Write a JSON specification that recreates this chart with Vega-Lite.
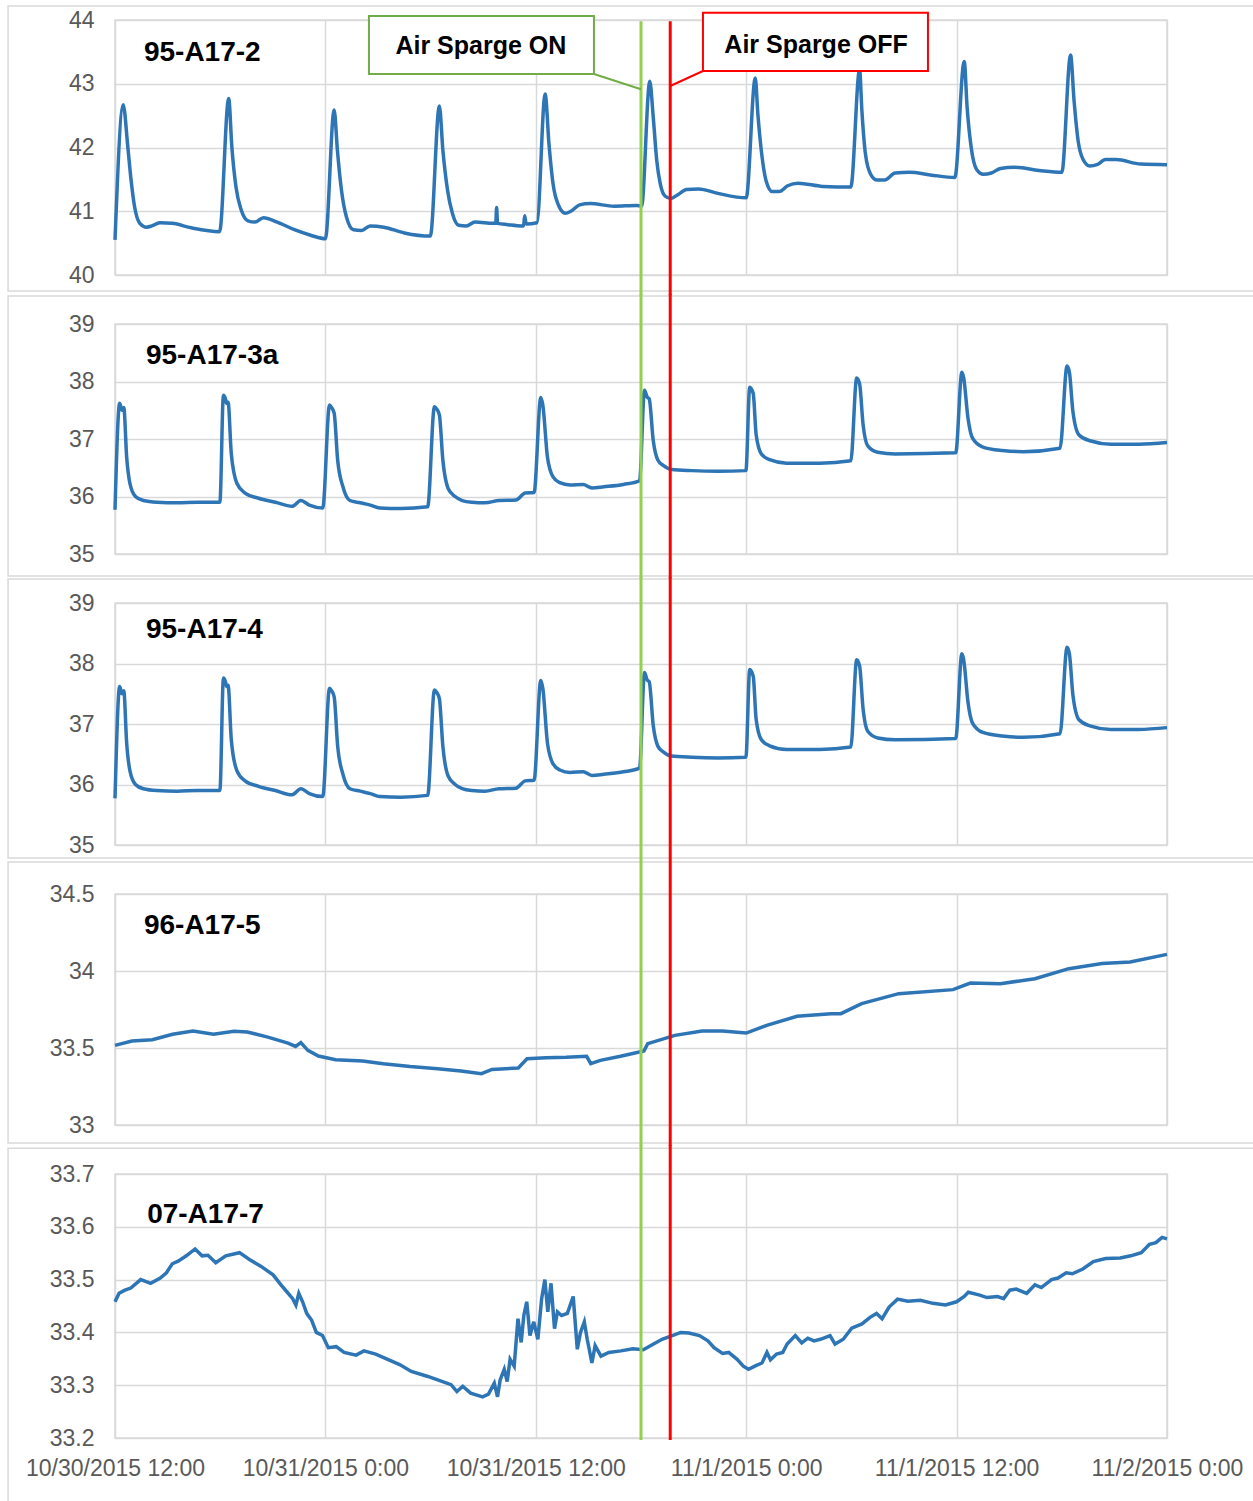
{
"$schema":"https://vega.github.io/schema/vega-lite/v6.json",
"padding":{"top":4,"left":6,"right":0,"bottom":0},
"background":"white",
"bounds":"flush",
"spacing":49,
"config":{"font":"Liberation Sans","view":{"stroke":"#d9d9d9","strokeWidth":1.5},
"axis":{"labelFont":"Liberation Sans","labelFontSize":23,"labelColor":"#595959","gridColor":"#d9d9d9","gridWidth":1.5,"ticks":false,"domain":false}},
"datasets":{
"p1":[{"t":"2015-10-30T12:00","v":40.55},{"t":"2015-10-30T12:28","v":42.67},{"t":"2015-10-30T12:44","v":42.0},{"t":"2015-10-30T12:55","v":41.49},{"t":"2015-10-30T13:07","v":41.07},{"t":"2015-10-30T13:25","v":40.81},{"t":"2015-10-30T13:48","v":40.75},{"t":"2015-10-30T14:06","v":40.77},{"t":"2015-10-30T14:33","v":40.82},{"t":"2015-10-30T15:16","v":40.81},{"t":"2015-10-30T16:21","v":40.74},{"t":"2015-10-30T17:58","v":40.68},{"t":"2015-10-30T18:29","v":42.77},{"t":"2015-10-30T18:40","v":42.0},{"t":"2015-10-30T18:54","v":41.38},{"t":"2015-10-30T19:12","v":41.02},{"t":"2015-10-30T19:35","v":40.85},{"t":"2015-10-30T19:59","v":40.83},{"t":"2015-10-30T20:28","v":40.9},{"t":"2015-10-30T21:15","v":40.83},{"t":"2015-10-30T22:14","v":40.71},{"t":"2015-10-30T23:12","v":40.62},{"t":"2015-10-31T00:00","v":40.57},{"t":"2015-10-31T00:30","v":42.59},{"t":"2015-10-31T00:41","v":41.96},{"t":"2015-10-31T00:55","v":41.33},{"t":"2015-10-31T01:12","v":40.91},{"t":"2015-10-31T01:36","v":40.71},{"t":"2015-10-31T02:04","v":40.70},{"t":"2015-10-31T02:33","v":40.77},{"t":"2015-10-31T03:20","v":40.75},{"t":"2015-10-31T04:30","v":40.66},{"t":"2015-10-31T05:59","v":40.61},{"t":"2015-10-31T06:30","v":42.65},{"t":"2015-10-31T06:42","v":41.96},{"t":"2015-10-31T06:58","v":41.33},{"t":"2015-10-31T07:15","v":40.96},{"t":"2015-10-31T07:36","v":40.78},{"t":"2015-10-31T08:02","v":40.77},{"t":"2015-10-31T08:32","v":40.83},{"t":"2015-10-31T09:36","v":40.81},{"t":"2015-10-31T09:43","v":40.81},{"t":"2015-10-31T09:46","v":41.06},{"t":"2015-10-31T09:49","v":40.81},{"t":"2015-10-31T10:24","v":40.79},{"t":"2015-10-31T11:11","v":40.77},{"t":"2015-10-31T11:18","v":40.77},{"t":"2015-10-31T11:22","v":40.93},{"t":"2015-10-31T11:27","v":40.8},{"t":"2015-10-31T12:04","v":40.82},{"t":"2015-10-31T12:32","v":42.84},{"t":"2015-10-31T12:45","v":42.06},{"t":"2015-10-31T12:59","v":41.43},{"t":"2015-10-31T13:18","v":41.09},{"t":"2015-10-31T13:41","v":40.97},{"t":"2015-10-31T14:00","v":41.0},{"t":"2015-10-31T14:30","v":41.1},{"t":"2015-10-31T15:06","v":41.12},{"t":"2015-10-31T16:28","v":41.08},{"t":"2015-10-31T17:45","v":41.09},{"t":"2015-10-31T18:02","v":41.08},{"t":"2015-10-31T18:30","v":43.04},{"t":"2015-10-31T18:42","v":42.47},{"t":"2015-10-31T18:54","v":41.79},{"t":"2015-10-31T19:06","v":41.43},{"t":"2015-10-31T19:22","v":41.24},{"t":"2015-10-31T19:42","v":41.2},{"t":"2015-10-31T20:06","v":41.26},{"t":"2015-10-31T20:36","v":41.34},{"t":"2015-10-31T21:17","v":41.35},{"t":"2015-10-31T22:23","v":41.28},{"t":"2015-11-01T00:00","v":41.21},{"t":"2015-11-01T00:31","v":43.09},{"t":"2015-11-01T00:40","v":42.52},{"t":"2015-11-01T00:53","v":41.9},{"t":"2015-11-01T01:08","v":41.48},{"t":"2015-11-01T01:29","v":41.31},{"t":"2015-11-01T01:53","v":41.31},{"t":"2015-11-01T02:22","v":41.4},{"t":"2015-11-01T02:58","v":41.44},{"t":"2015-11-01T04:22","v":41.39},{"t":"2015-11-01T05:58","v":41.38},{"t":"2015-11-01T06:28","v":43.22},{"t":"2015-11-01T06:36","v":42.57},{"t":"2015-11-01T06:48","v":41.9},{"t":"2015-11-01T07:06","v":41.58},{"t":"2015-11-01T07:28","v":41.49},{"t":"2015-11-01T07:54","v":41.49},{"t":"2015-11-01T08:30","v":41.6},{"t":"2015-11-01T09:18","v":41.61},{"t":"2015-11-01T10:30","v":41.57},{"t":"2015-11-01T11:54","v":41.53},{"t":"2015-11-01T12:26","v":43.35},{"t":"2015-11-01T12:36","v":42.63},{"t":"2015-11-01T12:50","v":42.0},{"t":"2015-11-01T13:08","v":41.66},{"t":"2015-11-01T13:32","v":41.58},{"t":"2015-11-01T13:59","v":41.6},{"t":"2015-11-01T14:30","v":41.67},{"t":"2015-11-01T15:18","v":41.69},{"t":"2015-11-01T16:42","v":41.64},{"t":"2015-11-01T18:00","v":41.61},{"t":"2015-11-01T18:30","v":43.45},{"t":"2015-11-01T18:42","v":42.73},{"t":"2015-11-01T18:56","v":42.1},{"t":"2015-11-01T19:12","v":41.82},{"t":"2015-11-01T19:36","v":41.71},{"t":"2015-11-01T20:00","v":41.73},{"t":"2015-11-01T20:30","v":41.81},{"t":"2015-11-01T21:06","v":41.81},{"t":"2015-11-01T22:30","v":41.74},{"t":"2015-11-02T00:00","v":41.73}],
"p2":[{"t":"2015-10-30T12:00","v":35.77},{"t":"2015-10-30T12:16","v":37.62},{"t":"2015-10-30T12:24","v":37.5},{"t":"2015-10-30T12:30","v":37.55},{"t":"2015-10-30T12:40","v":36.68},{"t":"2015-10-30T12:51","v":36.23},{"t":"2015-10-30T13:10","v":36.0},{"t":"2015-10-30T13:37","v":35.93},{"t":"2015-10-30T14:24","v":35.9},{"t":"2015-10-30T15:33","v":35.89},{"t":"2015-10-30T16:42","v":35.9},{"t":"2015-10-30T17:59","v":35.9},{"t":"2015-10-30T18:11","v":37.76},{"t":"2015-10-30T18:18","v":37.7},{"t":"2015-10-30T18:22","v":37.62},{"t":"2015-10-30T18:27","v":37.64},{"t":"2015-10-30T18:38","v":36.74},{"t":"2015-10-30T18:57","v":36.23},{"t":"2015-10-30T19:25","v":36.06},{"t":"2015-10-30T20:11","v":35.97},{"t":"2015-10-30T21:09","v":35.9},{"t":"2015-10-30T22:06","v":35.83},{"t":"2015-10-30T22:36","v":35.93},{"t":"2015-10-30T23:05","v":35.85},{"t":"2015-10-30T23:51","v":35.8},{"t":"2015-10-31T00:14","v":37.59},{"t":"2015-10-31T00:21","v":37.55},{"t":"2015-10-31T00:30","v":37.45},{"t":"2015-10-31T00:42","v":36.63},{"t":"2015-10-31T01:00","v":36.17},{"t":"2015-10-31T01:24","v":35.93},{"t":"2015-10-31T01:59","v":35.89},{"t":"2015-10-31T02:34","v":35.85},{"t":"2015-10-31T03:06","v":35.8},{"t":"2015-10-31T04:18","v":35.79},{"t":"2015-10-31T05:50","v":35.82},{"t":"2015-10-31T06:13","v":37.56},{"t":"2015-10-31T06:21","v":37.52},{"t":"2015-10-31T06:30","v":37.42},{"t":"2015-10-31T06:42","v":36.63},{"t":"2015-10-31T07:00","v":36.14},{"t":"2015-10-31T07:24","v":36.0},{"t":"2015-10-31T07:48","v":35.93},{"t":"2015-10-31T08:21","v":35.9},{"t":"2015-10-31T09:06","v":35.89},{"t":"2015-10-31T09:54","v":35.93},{"t":"2015-10-31T10:52","v":35.94},{"t":"2015-10-31T11:24","v":36.06},{"t":"2015-10-31T11:54","v":36.07},{"t":"2015-10-31T12:17","v":37.72},{"t":"2015-10-31T12:24","v":37.59},{"t":"2015-10-31T12:40","v":36.68},{"t":"2015-10-31T12:59","v":36.34},{"t":"2015-10-31T13:22","v":36.24},{"t":"2015-10-31T13:57","v":36.2},{"t":"2015-10-31T14:42","v":36.21},{"t":"2015-10-31T15:12","v":36.15},{"t":"2015-10-31T15:53","v":36.17},{"t":"2015-10-31T17:00","v":36.21},{"t":"2015-10-31T17:55","v":36.27},{"t":"2015-10-31T18:12","v":37.85},{"t":"2015-10-31T18:21","v":37.73},{"t":"2015-10-31T18:28","v":37.7},{"t":"2015-10-31T18:42","v":36.97},{"t":"2015-10-31T18:58","v":36.63},{"t":"2015-10-31T19:16","v":36.54},{"t":"2015-10-31T19:44","v":36.47},{"t":"2015-10-31T20:54","v":36.45},{"t":"2015-10-31T22:24","v":36.44},{"t":"2015-10-31T23:59","v":36.45},{"t":"2015-11-01T00:12","v":37.9},{"t":"2015-11-01T00:24","v":37.79},{"t":"2015-11-01T00:34","v":37.08},{"t":"2015-11-01T00:52","v":36.74},{"t":"2015-11-01T01:20","v":36.64},{"t":"2015-11-01T02:18","v":36.58},{"t":"2015-11-01T04:12","v":36.58},{"t":"2015-11-01T05:58","v":36.62},{"t":"2015-11-01T06:18","v":38.06},{"t":"2015-11-01T06:28","v":37.96},{"t":"2015-11-01T06:40","v":37.25},{"t":"2015-11-01T06:56","v":36.88},{"t":"2015-11-01T07:30","v":36.77},{"t":"2015-11-01T08:30","v":36.74},{"t":"2015-11-01T11:57","v":36.76},{"t":"2015-11-01T12:18","v":38.16},{"t":"2015-11-01T12:24","v":38.07},{"t":"2015-11-01T12:39","v":37.36},{"t":"2015-11-01T12:54","v":37.02},{"t":"2015-11-01T13:30","v":36.86},{"t":"2015-11-01T14:36","v":36.8},{"t":"2015-11-01T15:48","v":36.78},{"t":"2015-11-01T17:54","v":36.84},{"t":"2015-11-01T18:18","v":38.27},{"t":"2015-11-01T18:26","v":38.16},{"t":"2015-11-01T18:38","v":37.48},{"t":"2015-11-01T18:59","v":37.07},{"t":"2015-11-01T19:36","v":36.97},{"t":"2015-11-01T20:48","v":36.91},{"t":"2015-11-01T22:24","v":36.91},{"t":"2015-11-02T00:00","v":36.94}],
"p4":[{"t":"2015-10-30T12:00","v":33.517},{"t":"2015-10-30T12:58","v":33.545},{"t":"2015-10-30T14:08","v":33.554},{"t":"2015-10-30T15:17","v":33.589},{"t":"2015-10-30T16:27","v":33.61},{"t":"2015-10-30T17:37","v":33.589},{"t":"2015-10-30T18:47","v":33.608},{"t":"2015-10-30T19:33","v":33.604},{"t":"2015-10-30T20:43","v":33.571},{"t":"2015-10-30T21:52","v":33.532},{"t":"2015-10-30T22:18","v":33.51},{"t":"2015-10-30T22:36","v":33.535},{"t":"2015-10-30T23:00","v":33.485},{"t":"2015-10-30T23:36","v":33.448},{"t":"2015-10-31T00:35","v":33.424},{"t":"2015-10-31T02:08","v":33.416},{"t":"2015-10-31T03:18","v":33.398},{"t":"2015-10-31T04:50","v":33.38},{"t":"2015-10-31T06:24","v":33.366},{"t":"2015-10-31T07:44","v":33.35},{"t":"2015-10-31T08:54","v":33.333},{"t":"2015-10-31T09:30","v":33.361},{"t":"2015-10-31T11:00","v":33.37},{"t":"2015-10-31T11:30","v":33.43},{"t":"2015-10-31T12:35","v":33.437},{"t":"2015-10-31T13:44","v":33.44},{"t":"2015-10-31T14:54","v":33.446},{"t":"2015-10-31T15:08","v":33.398},{"t":"2015-10-31T15:41","v":33.42},{"t":"2015-10-31T16:50","v":33.446},{"t":"2015-10-31T18:10","v":33.48},{"t":"2015-10-31T18:23","v":33.528},{"t":"2015-10-31T19:56","v":33.582},{"t":"2015-10-31T21:29","v":33.61},{"t":"2015-10-31T22:39","v":33.61},{"t":"2015-11-01T00:00","v":33.597},{"t":"2015-11-01T01:10","v":33.647},{"t":"2015-11-01T02:54","v":33.706},{"t":"2015-11-01T04:50","v":33.723},{"t":"2015-11-01T05:24","v":33.723},{"t":"2015-11-01T06:35","v":33.788},{"t":"2015-11-01T08:42","v":33.853},{"t":"2015-11-01T11:48","v":33.879},{"t":"2015-11-01T12:47","v":33.922},{"t":"2015-11-01T14:30","v":33.918},{"t":"2015-11-01T16:28","v":33.95},{"t":"2015-11-01T18:24","v":34.015},{"t":"2015-11-01T20:18","v":34.048},{"t":"2015-11-01T21:54","v":34.058},{"t":"2015-11-02T00:00","v":34.108}],
"p5":[{"t":"2015-10-30T12:00","v":33.458},{"t":"2015-10-30T12:14","v":33.474},{"t":"2015-10-30T12:34","v":33.48},{"t":"2015-10-30T12:54","v":33.484},{"t":"2015-10-30T13:28","v":33.5},{"t":"2015-10-30T14:02","v":33.493},{"t":"2015-10-30T14:35","v":33.503},{"t":"2015-10-30T14:56","v":33.513},{"t":"2015-10-30T15:16","v":33.53},{"t":"2015-10-30T15:36","v":33.535},{"t":"2015-10-30T16:04","v":33.545},{"t":"2015-10-30T16:34","v":33.558},{"t":"2015-10-30T16:58","v":33.545},{"t":"2015-10-30T17:18","v":33.546},{"t":"2015-10-30T17:45","v":33.532},{"t":"2015-10-30T18:19","v":33.545},{"t":"2015-10-30T19:06","v":33.551},{"t":"2015-10-30T19:40","v":33.538},{"t":"2015-10-30T20:20","v":33.525},{"t":"2015-10-30T21:01","v":33.509},{"t":"2015-10-30T21:28","v":33.49},{"t":"2015-10-30T21:48","v":33.477},{"t":"2015-10-30T22:08","v":33.464},{"t":"2015-10-30T22:19","v":33.452},{"t":"2015-10-30T22:29","v":33.474},{"t":"2015-10-30T22:42","v":33.458},{"t":"2015-10-30T22:56","v":33.436},{"t":"2015-10-30T23:13","v":33.423},{"t":"2015-10-30T23:29","v":33.4},{"t":"2015-10-30T23:50","v":33.394},{"t":"2015-10-31T00:10","v":33.371},{"t":"2015-10-31T00:37","v":33.373},{"t":"2015-10-31T01:04","v":33.362},{"t":"2015-10-31T01:45","v":33.357},{"t":"2015-10-31T02:12","v":33.365},{"t":"2015-10-31T02:52","v":33.359},{"t":"2015-10-31T03:33","v":33.349},{"t":"2015-10-31T04:14","v":33.339},{"t":"2015-10-31T04:54","v":33.326},{"t":"2015-10-31T05:48","v":33.317},{"t":"2015-10-31T06:29","v":33.309},{"t":"2015-10-31T07:10","v":33.301},{"t":"2015-10-31T07:30","v":33.288},{"t":"2015-10-31T07:50","v":33.298},{"t":"2015-10-31T08:17","v":33.285},{"t":"2015-10-31T08:58","v":33.278},{"t":"2015-10-31T09:18","v":33.283},{"t":"2015-10-31T09:38","v":33.304},{"t":"2015-10-31T09:49","v":33.278},{"t":"2015-10-31T09:58","v":33.31},{"t":"2015-10-31T10:12","v":33.33},{"t":"2015-10-31T10:22","v":33.307},{"t":"2015-10-31T10:32","v":33.349},{"t":"2015-10-31T10:46","v":33.336},{"t":"2015-10-31T10:59","v":33.426},{"t":"2015-10-31T11:10","v":33.381},{"t":"2015-10-31T11:19","v":33.432},{"t":"2015-10-31T11:29","v":33.458},{"t":"2015-10-31T11:40","v":33.394},{"t":"2015-10-31T11:53","v":33.42},{"t":"2015-10-31T12:07","v":33.387},{"t":"2015-10-31T12:20","v":33.464},{"t":"2015-10-31T12:31","v":33.5},{"t":"2015-10-31T12:41","v":33.439},{"t":"2015-10-31T12:52","v":33.493},{"t":"2015-10-31T13:04","v":33.407},{"t":"2015-10-31T13:14","v":33.439},{"t":"2015-10-31T13:28","v":33.432},{"t":"2015-10-31T13:48","v":33.436},{"t":"2015-10-31T14:08","v":33.468},{"t":"2015-10-31T14:22","v":33.368},{"t":"2015-10-31T14:33","v":33.4},{"t":"2015-10-31T14:46","v":33.42},{"t":"2015-10-31T14:56","v":33.387},{"t":"2015-10-31T15:12","v":33.342},{"t":"2015-10-31T15:23","v":33.375},{"t":"2015-10-31T15:43","v":33.355},{"t":"2015-10-31T16:10","v":33.362},{"t":"2015-10-31T16:51","v":33.365},{"t":"2015-10-31T17:32","v":33.369},{"t":"2015-10-31T18:08","v":33.367},{"t":"2015-10-31T18:43","v":33.378},{"t":"2015-10-31T19:12","v":33.387},{"t":"2015-10-31T19:47","v":33.394},{"t":"2015-10-31T20:16","v":33.4},{"t":"2015-10-31T20:44","v":33.399},{"t":"2015-10-31T21:20","v":33.394},{"t":"2015-10-31T21:49","v":33.384},{"t":"2015-10-31T22:10","v":33.371},{"t":"2015-10-31T22:39","v":33.36},{"t":"2015-10-31T23:00","v":33.362},{"t":"2015-10-31T23:29","v":33.349},{"t":"2015-10-31T23:50","v":33.336},{"t":"2015-11-01T00:08","v":33.33},{"t":"2015-11-01T00:33","v":33.337},{"t":"2015-11-01T00:54","v":33.342},{"t":"2015-11-01T01:11","v":33.362},{"t":"2015-11-01T01:23","v":33.348},{"t":"2015-11-01T01:44","v":33.359},{"t":"2015-11-01T02:05","v":33.362},{"t":"2015-11-01T02:20","v":33.378},{"t":"2015-11-01T02:48","v":33.394},{"t":"2015-11-01T03:10","v":33.38},{"t":"2015-11-01T03:31","v":33.389},{"t":"2015-11-01T03:52","v":33.384},{"t":"2015-11-01T04:14","v":33.387},{"t":"2015-11-01T04:47","v":33.394},{"t":"2015-11-01T05:04","v":33.378},{"t":"2015-11-01T05:32","v":33.387},{"t":"2015-11-01T06:01","v":33.408},{"t":"2015-11-01T06:36","v":33.416},{"t":"2015-11-01T07:05","v":33.429},{"t":"2015-11-01T07:26","v":33.436},{"t":"2015-11-01T07:45","v":33.426},{"t":"2015-11-01T08:09","v":33.448},{"t":"2015-11-01T08:38","v":33.463},{"t":"2015-11-01T09:13","v":33.459},{"t":"2015-11-01T09:56","v":33.461},{"t":"2015-11-01T10:39","v":33.455},{"t":"2015-11-01T11:22","v":33.452},{"t":"2015-11-01T12:00","v":33.458},{"t":"2015-11-01T12:26","v":33.468},{"t":"2015-11-01T12:40","v":33.476},{"t":"2015-11-01T13:16","v":33.471},{"t":"2015-11-01T13:44","v":33.466},{"t":"2015-11-01T14:20","v":33.468},{"t":"2015-11-01T14:41","v":33.464},{"t":"2015-11-01T15:02","v":33.48},{"t":"2015-11-01T15:24","v":33.482},{"t":"2015-11-01T16:00","v":33.474},{"t":"2015-11-01T16:28","v":33.49},{"t":"2015-11-01T16:50","v":33.485},{"t":"2015-11-01T17:25","v":33.5},{"t":"2015-11-01T17:47","v":33.503},{"t":"2015-11-01T18:15","v":33.513},{"t":"2015-11-01T18:36","v":33.511},{"t":"2015-11-01T19:12","v":33.52},{"t":"2015-11-01T19:48","v":33.534},{"t":"2015-11-01T20:30","v":33.54},{"t":"2015-11-01T21:20","v":33.541},{"t":"2015-11-01T21:56","v":33.545},{"t":"2015-11-01T22:32","v":33.551},{"t":"2015-11-01T23:00","v":33.567},{"t":"2015-11-01T23:22","v":33.57},{"t":"2015-11-01T23:43","v":33.58},{"t":"2015-11-02T00:00","v":33.577}]
},
"vconcat":[
{"width":1052,"height":255,"layer":[
{"data":{"name":"p1"},"mark":{"type":"line","color":"#2e75b6","strokeWidth":3.5,"interpolate":"monotone"},"encoding":{"x":{"field":"t","type":"temporal","scale":{"domain":[{"year":2015,"month":10,"date":30,"hours":12},{"year":2015,"month":11,"date":2,"hours":0}]},"axis":{"values":[{"year":2015,"month":10,"date":30,"hours":12},{"year":2015,"month":10,"date":31,"hours":0},{"year":2015,"month":10,"date":31,"hours":12},{"year":2015,"month":11,"date":1,"hours":0},{"year":2015,"month":11,"date":1,"hours":12},{"year":2015,"month":11,"date":2,"hours":0}],"labels":false,"grid":true,"title":null}},"y":{"field":"v","type":"quantitative","scale":{"domain":[40,44],"nice":false,"zero":false},"axis":{"values":[40,41,42,43,44],"format":"~g","title":null,"labelPadding":21}}}},
{"data":{"values":[{}]},"mark":{"type":"rect","fill":"white","fillOpacity":0,"stroke":"#d9d9d9","strokeWidth":1.5},"encoding":{"x":{"datum":{"year":2015,"month":10,"date":30,"hours":5,"minutes":54},"type":"temporal"},"x2":{"datum":{"year":2015,"month":11,"date":2,"hours":5,"minutes":8}},"y":{"datum":44.2196,"type":"quantitative"},"y2":{"datum":39.749}}},
{"data":{"values":[{}]},"mark":{"type":"rule","color":"#92d050","strokeWidth":3},"encoding":{"x":{"datum":{"year":2015,"month":10,"date":31,"hours":18},"type":"temporal"},"y":{"datum":43.98,"type":"quantitative"},"y2":{"datum":39.686}}},
{"data":{"values":[{}]},"mark":{"type":"rule","color":"#ff0000","strokeWidth":3},"encoding":{"x":{"datum":{"year":2015,"month":10,"date":31,"hours":19,"minutes":40},"type":"temporal"},"y":{"datum":43.98,"type":"quantitative"},"y2":{"datum":39.686}}},
{"data":{"values":[{}]},"mark":{"type":"rule","color":"#70ad47","strokeWidth":2},"encoding":{"x":{"datum":{"year":2015,"month":10,"date":31,"hours":15,"minutes":19},"type":"temporal"},"x2":{"datum":{"year":2015,"month":10,"date":31,"hours":18}},"y":{"datum":43.153,"type":"quantitative"},"y2":{"datum":42.913}}},
{"data":{"values":[{}]},"mark":{"type":"rule","color":"#ff0000","strokeWidth":2},"encoding":{"x":{"datum":{"year":2015,"month":10,"date":31,"hours":21,"minutes":32},"type":"temporal"},"x2":{"datum":{"year":2015,"month":10,"date":31,"hours":19,"minutes":40}},"y":{"datum":43.2,"type":"quantitative"},"y2":{"datum":42.965}}},
{"data":{"values":[{}]},"mark":{"type":"rect","fill":"white","stroke":"#70ad47","strokeWidth":2},"encoding":{"x":{"datum":{"year":2015,"month":10,"date":31,"hours":2,"minutes":29},"type":"temporal"},"x2":{"datum":{"year":2015,"month":10,"date":31,"hours":15,"minutes":19}},"y":{"datum":44.063,"type":"quantitative"},"y2":{"datum":43.153}}},
{"data":{"values":[{}]},"mark":{"type":"rect","fill":"white","stroke":"#ff0000","strokeWidth":2},"encoding":{"x":{"datum":{"year":2015,"month":10,"date":31,"hours":21,"minutes":32},"type":"temporal"},"x2":{"datum":{"year":2015,"month":11,"date":1,"hours":10,"minutes":22}},"y":{"datum":44.115,"type":"quantitative"},"y2":{"datum":43.2}}},
{"data":{"values":[{}]},"mark":{"type":"text","text":"Air Sparge ON","align":"center","baseline":"alphabetic","fontSize":25,"fontWeight":"bold","color":"black"},"encoding":{"x":{"datum":{"year":2015,"month":10,"date":31,"hours":8,"minutes":52},"type":"temporal"},"y":{"datum":43.459,"type":"quantitative"}}},
{"data":{"values":[{}]},"mark":{"type":"text","text":"Air Sparge OFF","align":"center","baseline":"alphabetic","fontSize":25,"fontWeight":"bold","color":"black"},"encoding":{"x":{"datum":{"year":2015,"month":11,"date":1,"hours":3,"minutes":59},"type":"temporal"},"y":{"datum":43.482,"type":"quantitative"}}},
{"data":{"values":[{}]},"mark":{"type":"text","text":"95-A17-2","align":"left","baseline":"alphabetic","fontSize":28,"fontWeight":"bold","color":"black"},"encoding":{"x":{"datum":{"year":2015,"month":10,"date":30,"hours":13,"minutes":39},"type":"temporal"},"y":{"datum":43.357,"type":"quantitative"}}}
]},
{"width":1052,"height":230,"layer":[
{"data":{"name":"p2"},"mark":{"type":"line","color":"#2e75b6","strokeWidth":3.5,"interpolate":"monotone"},"encoding":{"x":{"field":"t","type":"temporal","scale":{"domain":[{"year":2015,"month":10,"date":30,"hours":12},{"year":2015,"month":11,"date":2,"hours":0}]},"axis":{"values":[{"year":2015,"month":10,"date":30,"hours":12},{"year":2015,"month":10,"date":31,"hours":0},{"year":2015,"month":10,"date":31,"hours":12},{"year":2015,"month":11,"date":1,"hours":0},{"year":2015,"month":11,"date":1,"hours":12},{"year":2015,"month":11,"date":2,"hours":0}],"labels":false,"grid":true,"title":null}},"y":{"field":"v","type":"quantitative","scale":{"domain":[35,39],"nice":false,"zero":false},"axis":{"values":[35,36,37,38,39],"format":"~g","title":null,"labelPadding":21}}}},
{"data":{"values":[{}]},"mark":{"type":"rect","fill":"white","fillOpacity":0,"stroke":"#d9d9d9","strokeWidth":1.5},"encoding":{"x":{"datum":{"year":2015,"month":10,"date":30,"hours":5,"minutes":54},"type":"temporal"},"x2":{"datum":{"year":2015,"month":11,"date":2,"hours":5,"minutes":8}},"y":{"datum":39.487,"type":"quantitative"},"y2":{"datum":34.617}}},
{"data":{"values":[{}]},"mark":{"type":"rule","color":"#92d050","strokeWidth":3},"encoding":{"x":{"datum":{"year":2015,"month":10,"date":31,"hours":18},"type":"temporal"},"y":{"datum":39.522,"type":"quantitative"},"y2":{"datum":34.583}}},
{"data":{"values":[{}]},"mark":{"type":"rule","color":"#ff0000","strokeWidth":3},"encoding":{"x":{"datum":{"year":2015,"month":10,"date":31,"hours":19,"minutes":40},"type":"temporal"},"y":{"datum":39.522,"type":"quantitative"},"y2":{"datum":34.583}}},
{"data":{"values":[{}]},"mark":{"type":"text","text":"95-A17-3a","align":"left","baseline":"alphabetic","fontSize":28,"fontWeight":"bold","color":"black"},"encoding":{"x":{"datum":{"year":2015,"month":10,"date":30,"hours":13,"minutes":46},"type":"temporal"},"y":{"datum":38.304,"type":"quantitative"}}}
]},
{"width":1052,"height":242,"layer":[
{"data":{"name":"p2"},"mark":{"type":"line","color":"#2e75b6","strokeWidth":3.5,"interpolate":"monotone"},"encoding":{"x":{"field":"t","type":"temporal","scale":{"domain":[{"year":2015,"month":10,"date":30,"hours":12},{"year":2015,"month":11,"date":2,"hours":0}]},"axis":{"values":[{"year":2015,"month":10,"date":30,"hours":12},{"year":2015,"month":10,"date":31,"hours":0},{"year":2015,"month":10,"date":31,"hours":12},{"year":2015,"month":11,"date":1,"hours":0},{"year":2015,"month":11,"date":1,"hours":12},{"year":2015,"month":11,"date":2,"hours":0}],"labels":false,"grid":true,"title":null}},"y":{"field":"v","type":"quantitative","scale":{"domain":[35,39],"nice":false,"zero":false},"axis":{"values":[35,36,37,38,39],"format":"~g","title":null,"labelPadding":21}}}},
{"data":{"values":[{}]},"mark":{"type":"rect","fill":"white","fillOpacity":0,"stroke":"#d9d9d9","strokeWidth":1.5},"encoding":{"x":{"datum":{"year":2015,"month":10,"date":30,"hours":5,"minutes":54},"type":"temporal"},"x2":{"datum":{"year":2015,"month":11,"date":2,"hours":5,"minutes":8}},"y":{"datum":39.397,"type":"quantitative"},"y2":{"datum":34.785}}},
{"data":{"values":[{}]},"mark":{"type":"rule","color":"#92d050","strokeWidth":3},"encoding":{"x":{"datum":{"year":2015,"month":10,"date":31,"hours":18},"type":"temporal"},"y":{"datum":39.43,"type":"quantitative"},"y2":{"datum":34.752}}},
{"data":{"values":[{}]},"mark":{"type":"rule","color":"#ff0000","strokeWidth":3},"encoding":{"x":{"datum":{"year":2015,"month":10,"date":31,"hours":19,"minutes":40},"type":"temporal"},"y":{"datum":39.43,"type":"quantitative"},"y2":{"datum":34.752}}},
{"data":{"values":[{}]},"mark":{"type":"text","text":"95-A17-4","align":"left","baseline":"alphabetic","fontSize":28,"fontWeight":"bold","color":"black"},"encoding":{"x":{"datum":{"year":2015,"month":10,"date":30,"hours":13,"minutes":46},"type":"temporal"},"y":{"datum":38.421,"type":"quantitative"}}}
]},
{"width":1052,"height":231,"layer":[
{"data":{"name":"p4"},"mark":{"type":"line","color":"#2e75b6","strokeWidth":3.5},"encoding":{"x":{"field":"t","type":"temporal","scale":{"domain":[{"year":2015,"month":10,"date":30,"hours":12},{"year":2015,"month":11,"date":2,"hours":0}]},"axis":{"values":[{"year":2015,"month":10,"date":30,"hours":12},{"year":2015,"month":10,"date":31,"hours":0},{"year":2015,"month":10,"date":31,"hours":12},{"year":2015,"month":11,"date":1,"hours":0},{"year":2015,"month":11,"date":1,"hours":12},{"year":2015,"month":11,"date":2,"hours":0}],"labels":false,"grid":true,"title":null}},"y":{"field":"v","type":"quantitative","scale":{"domain":[33,34.5],"nice":false,"zero":false},"axis":{"values":[33,33.5,34,34.5],"format":"~g","title":null,"labelPadding":21}}}},
{"data":{"values":[{}]},"mark":{"type":"rect","fill":"white","fillOpacity":0,"stroke":"#d9d9d9","strokeWidth":1.5},"encoding":{"x":{"datum":{"year":2015,"month":10,"date":30,"hours":5,"minutes":54},"type":"temporal"},"x2":{"datum":{"year":2015,"month":11,"date":2,"hours":5,"minutes":8}},"y":{"datum":34.708,"type":"quantitative"},"y2":{"datum":32.883}}},
{"data":{"values":[{}]},"mark":{"type":"rule","color":"#92d050","strokeWidth":3},"encoding":{"x":{"datum":{"year":2015,"month":10,"date":31,"hours":18},"type":"temporal"},"y":{"datum":34.721,"type":"quantitative"},"y2":{"datum":32.864}}},
{"data":{"values":[{}]},"mark":{"type":"rule","color":"#ff0000","strokeWidth":3},"encoding":{"x":{"datum":{"year":2015,"month":10,"date":31,"hours":19,"minutes":40},"type":"temporal"},"y":{"datum":34.721,"type":"quantitative"},"y2":{"datum":32.864}}},
{"data":{"values":[{}]},"mark":{"type":"text","text":"96-A17-5","align":"left","baseline":"alphabetic","fontSize":28,"fontWeight":"bold","color":"black"},"encoding":{"x":{"datum":{"year":2015,"month":10,"date":30,"hours":13,"minutes":39},"type":"temporal"},"y":{"datum":34.24,"type":"quantitative"}}}
]},
{"width":1052,"height":264,"layer":[
{"data":{"name":"p5"},"mark":{"type":"line","color":"#2e75b6","strokeWidth":3.5},"encoding":{"x":{"field":"t","type":"temporal","scale":{"domain":[{"year":2015,"month":10,"date":30,"hours":12},{"year":2015,"month":11,"date":2,"hours":0}]},"axis":{"values":[{"year":2015,"month":10,"date":30,"hours":12},{"year":2015,"month":10,"date":31,"hours":0},{"year":2015,"month":10,"date":31,"hours":12},{"year":2015,"month":11,"date":1,"hours":0},{"year":2015,"month":11,"date":1,"hours":12},{"year":2015,"month":11,"date":2,"hours":0}],"format":"%-m/%-d/%Y %-H:%M","labelFlush":false,"labelOverlap":false,"labelPadding":19,"grid":true,"title":null}},"y":{"field":"v","type":"quantitative","scale":{"domain":[33.2,33.7],"nice":false,"zero":false},"axis":{"values":[33.2,33.3,33.4,33.5,33.6,33.7],"format":"~g","title":null,"labelPadding":21}}}},
{"data":{"values":[{}]},"mark":{"type":"rect","fill":"white","fillOpacity":0,"stroke":"#d9d9d9","strokeWidth":1.5},"encoding":{"x":{"datum":{"year":2015,"month":10,"date":30,"hours":5,"minutes":54},"type":"temporal"},"x2":{"datum":{"year":2015,"month":11,"date":2,"hours":5,"minutes":8}},"y":{"datum":33.749,"type":"quantitative"},"y2":{"datum":33.052}}},
{"data":{"values":[{}]},"mark":{"type":"rule","color":"#92d050","strokeWidth":3},"encoding":{"x":{"datum":{"year":2015,"month":10,"date":31,"hours":18},"type":"temporal"},"y":{"datum":33.755,"type":"quantitative"},"y2":{"datum":33.196}}},
{"data":{"values":[{}]},"mark":{"type":"rule","color":"#ff0000","strokeWidth":3},"encoding":{"x":{"datum":{"year":2015,"month":10,"date":31,"hours":19,"minutes":40},"type":"temporal"},"y":{"datum":33.755,"type":"quantitative"},"y2":{"datum":33.196}}},
{"data":{"values":[{}]},"mark":{"type":"text","text":"07-A17-7","align":"left","baseline":"alphabetic","fontSize":28,"fontWeight":"bold","color":"black"},"encoding":{"x":{"datum":{"year":2015,"month":10,"date":30,"hours":13,"minutes":50},"type":"temporal"},"y":{"datum":33.607,"type":"quantitative"}}}
]}
]
}
